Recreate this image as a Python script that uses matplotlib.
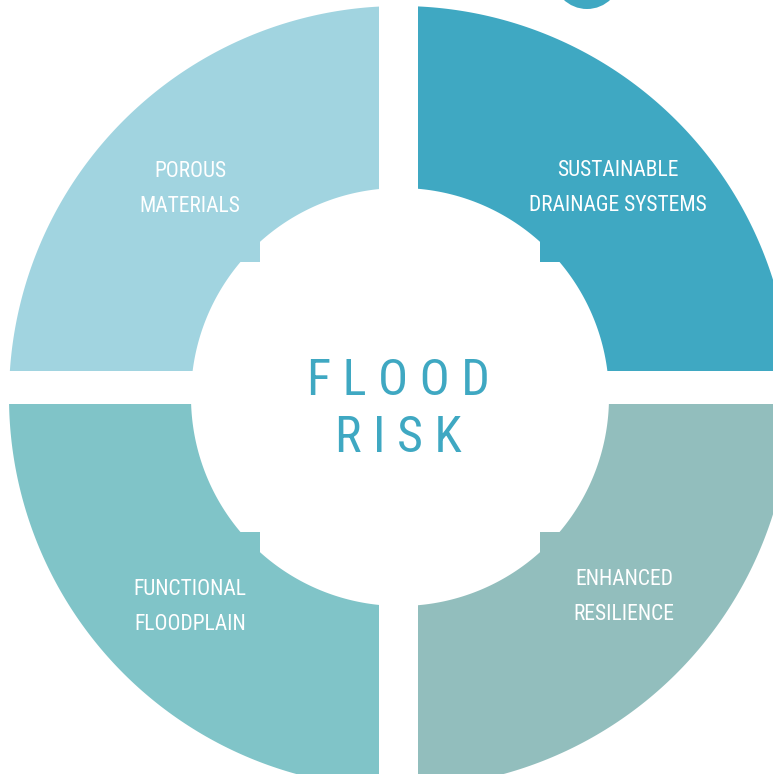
#!/usr/bin/env python3
"""Flood risk ring diagram: four quadrants around a central title."""

import numpy as np
import matplotlib
matplotlib.use("Agg")
import matplotlib.pyplot as plt
from matplotlib import font_manager
from matplotlib.font_manager import FontProperties
from matplotlib.patches import Polygon, Circle

# --- data ---
labels = ["POROUS\nMATERIALS", "SUSTAINABLE\nDRAINAGE SYSTEMS",
          "FUNCTIONAL\nFLOODPLAIN", "ENHANCED\nRESILIENCE"]
colors = ["#a1d4e0", "#3fa8c2", "#80c4c8", "#92bebd"]
label_pos = [(190, 189), (618, 188), (190, 607), (624, 597)]
quad_signs = [(-1, -1), (1, -1), (-1, 1), (1, 1)]
title_lines = ["F L O O D", "R I S K"]
title_color = "#3fa8c2"

# ring geometry (pixels)
cx, cy = 400, 397
r_out, r_in = 391, 209
tab_u, tab_v = 140, 135
gap_x = (379, 418)
gap_y = (371, 404)


def pick_font():
    # look for a narrow face; the original uses a tall condensed type
    cands = [("Roboto Condensed", "normal"), ("Noto Sans Condensed", "normal"),
             ("Open Sans Condensed", "normal"), ("Liberation Sans Narrow", "normal"),
             ("DejaVu Sans Condensed", "normal"), ("Noto Sans", "condensed"),
             ("Roboto", "condensed"), ("Open Sans", "condensed"),
             ("DejaVu Sans", "condensed")]
    for fam, st in cands:
        fp = FontProperties(family=fam, stretch=st)
        try:
            path = font_manager.findfont(fp, fallback_to_default=False)
        except ValueError:
            continue
        if "ondensed" in path or "Narrow" in path:
            return FontProperties(fname=path), True
    return FontProperties(family="Roboto"), False


FP, NARROW = pick_font()
label_size = 15.5 if NARROW else 13
title_size = 36 if NARROW else 30


def arc(r, a0, a1, n=120):
    t = np.linspace(a0, a1, n)
    return np.column_stack([r * np.cos(t), r * np.sin(t)])


def quadrant(sx, sy):
    a = (cx - gap_x[0]) if sx < 0 else (gap_x[1] - cx)
    b = (cy - gap_y[0]) if sy < 0 else (gap_y[1] - cy)
    pts = [arc(r_out, np.arctan2(np.sqrt(r_out**2 - a**2), a),
               np.arctan2(b, np.sqrt(r_out**2 - b**2)))]
    pts.append(arc(r_in, np.arctan2(b, np.sqrt(r_in**2 - b**2)),
                   np.arctan2(tab_v, np.sqrt(r_in**2 - tab_v**2)), 60))
    pts.append(np.array([[tab_u, tab_v]]))
    pts.append(arc(r_in, np.arctan2(np.sqrt(r_in**2 - tab_u**2), tab_u),
                   np.arctan2(np.sqrt(r_in**2 - a**2), a), 60))
    uv = np.vstack(pts)
    return np.column_stack([cx + sx * uv[:, 0], cy + sy * uv[:, 1]])


fig = plt.figure(figsize=(7.73, 7.74), dpi=100)
ax = fig.add_axes([0, 0, 1, 1])
ax.set_xlim(0, 773)
ax.set_ylim(774, 0)
ax.set_aspect("equal")
ax.axis("off")

for (sx, sy), col, lab, (lx, ly) in zip(quad_signs, colors, labels, label_pos):
    ax.add_patch(Polygon(quadrant(sx, sy), closed=True, facecolor=col, edgecolor="none"))
    ax.text(lx, ly, lab, ha="center", va="center", color="white",
            fontproperties=FP, fontsize=label_size, linespacing=1.82)

# small dot cut off at the top edge
ax.add_patch(Circle((587, -25), 34, facecolor=colors[1], edgecolor="none"))

ax.text(398, 381, title_lines[0], ha="center", va="center", color=title_color,
        fontproperties=FP, fontsize=title_size)
ax.text(398, 438, title_lines[1], ha="center", va="center", color=title_color,
        fontproperties=FP, fontsize=title_size)

fig.savefig("out.png", dpi=100, facecolor="white")
